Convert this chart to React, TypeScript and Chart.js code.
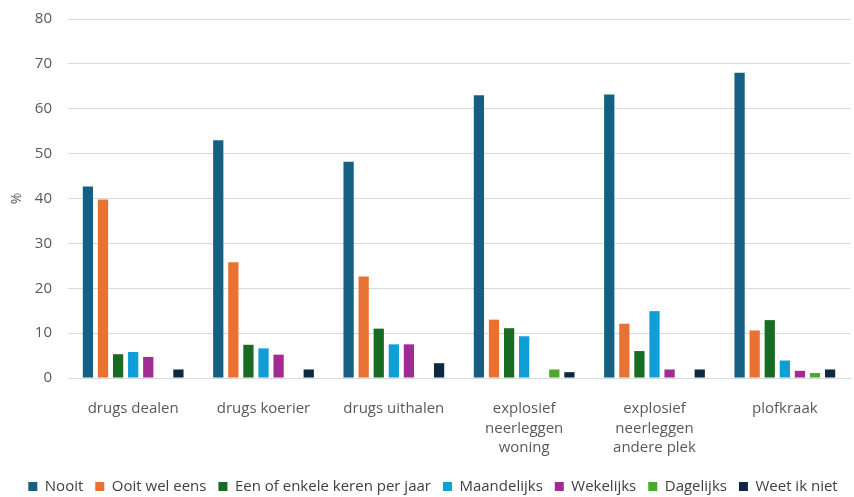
import React, { useEffect, useRef } from "react";
import { Chart, registerables } from "chart.js";

Chart.register(...registerables);

const categories: (string | string[])[] = [
  "drugs dealen",
  "drugs koerier",
  "drugs uithalen",
  ["explosief", "neerleggen", "woning"],
  ["explosief", "neerleggen", "andere plek"],
  "plofkraak",
];

const nooit = [42.7, 53.0, 48.2, 63.0, 63.2, 68.0];
const ooitWelEens = [39.8, 25.8, 22.6, 13.0, 12.1, 10.6];
const perJaar = [5.3, 7.4, 11.0, 11.1, 6.0, 12.9];
const maandelijks = [5.8, 6.6, 7.5, 9.3, 14.9, 3.9];
const wekelijks = [4.7, 5.2, 7.5, 0, 1.9, 1.6];
const dagelijks = [0, 0, 0, 1.9, 0, 1.1];
const weetIkNiet = [1.9, 1.9, 3.3, 1.3, 1.9, 1.9];

const seriesNames = [
  "Nooit",
  "Ooit wel eens",
  "Een of enkele keren per jaar",
  "Maandelijks",
  "Wekelijks",
  "Dagelijks",
  "Weet ik niet",
];
const seriesColors = ["#156082", "#E97132", "#196B24", "#0F9ED5", "#A02B93", "#4EA72E", "#0E2841"];
const yTicks = [0, 10, 20, 30, 40, 50, 60, 70, 80];

const FONT = "'Open Sans'";

const legendShift = {
  id: "legendShift",
  beforeInit(chart: any) {
    const orig = chart.legend.fit;
    chart.legend.fit = function () {
      orig.call(this);
      this.height -= 7;
    };
  },
};

export default function App() {
  const ref = useRef<HTMLCanvasElement>(null);
  useEffect(() => {
    document.body.style.margin = "0";
    const values = [nooit, ooitWelEens, perJaar, maandelijks, wekelijks, dagelijks, weetIkNiet];
    const chart = new Chart(ref.current!, {
      type: "bar",
      data: {
        labels: categories,
        datasets: values.map((v, i) => ({
          label: seriesNames[i],
          data: v,
          backgroundColor: seriesColors[i],
          categoryPercentage: 0.81,
          barPercentage: 0.68,
        })),
      },
      plugins: [legendShift],
      options: {
        animation: false,
        responsive: false,
        maintainAspectRatio: false,
        layout: { padding: { left: 16, right: 4, top: 3, bottom: 0 } },
        plugins: {
          legend: {
            position: "bottom",
            labels: {
              boxWidth: 9,
              boxHeight: 9,
              padding: 12,
              color: "#404040",
              font: { family: FONT, size: 15 },
            },
          },
          tooltip: { enabled: false },
        },
        scales: {
          x: {
            grid: { display: false },
            border: { color: "#d9d9d9" },
            afterFit: (axis: any) => {
              axis.height = 89;
            },
            ticks: {
              color: "#595959",
              font: { family: FONT, size: 15, lineHeight: 1.3 },
              maxRotation: 0,
              autoSkip: false,
              padding: 13,
            },
          },
          y: {
            min: 0,
            max: 80,
            afterBuildTicks: (axis: any) => {
              axis.ticks = yTicks.map((v) => ({ value: v }));
            },
            afterFit: (axis: any) => {
              axis.width = 52;
            },
            grid: { color: "#d9d9d9", drawTicks: true, tickLength: 6, tickColor: "rgba(0,0,0,0)" },
            border: { display: false },
            ticks: {
              color: "#595959",
              font: { family: FONT, size: 15 },
              padding: 10,
            },
            title: {
              display: true,
              text: "%",
              color: "#595959",
              font: { family: FONT, size: 14 },
              padding: { top: -7, bottom: 0 },
            },
          },
        },
      },
    });
    return () => chart.destroy();
  }, []);
  return <canvas ref={ref} width={854} height={497} style={{ display: "block" }} />;
}
